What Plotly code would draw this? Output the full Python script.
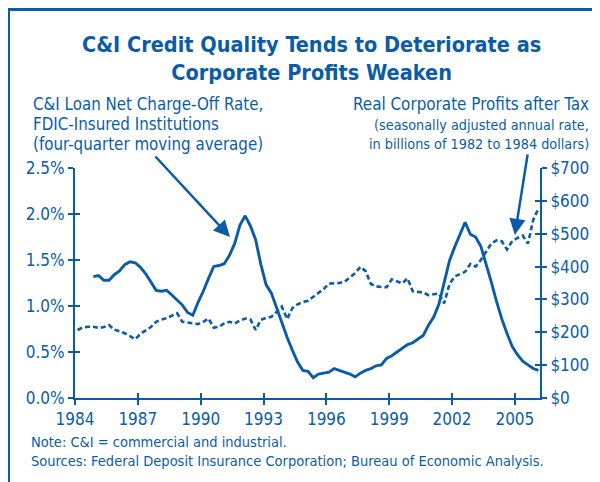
import plotly.graph_objects as go

# ---- data ----
# C&I loan net charge-off rate (%), quarterly, first point at 1984.875
chargeoff_start = 1984.875
chargeoff = [1.32, 1.33, 1.28, 1.28, 1.34, 1.38, 1.45, 1.48, 1.47, 1.42, 1.35, 1.26,
             1.17, 1.16, 1.17, 1.12, 1.06, 1.01, 0.93, 0.90, 1.04, 1.16, 1.30, 1.43,
             1.44, 1.46, 1.55, 1.68, 1.88, 1.98, 1.87, 1.72, 1.45, 1.23, 1.14, 0.98,
             0.81, 0.66, 0.52, 0.39, 0.30, 0.29, 0.22, 0.26, 0.27, 0.28, 0.32, 0.30,
             0.28, 0.26, 0.23, 0.27, 0.30, 0.32, 0.35, 0.36, 0.43, 0.46, 0.50, 0.54,
             0.58, 0.60, 0.64, 0.68, 0.79, 0.88, 1.02, 1.25, 1.49, 1.64, 1.77, 1.91,
             1.78, 1.75, 1.65, 1.46, 1.26, 1.05, 0.86, 0.70, 0.56, 0.47, 0.40, 0.36,
             0.32, 0.30]

# Real corporate profits after tax (billions of 1982-84 $), quarterly, first point at 1984.125
profits_start = 1984.125
profits = [207, 215, 217, 217, 213, 216, 222, 208, 203, 197, 188, 179,
           195, 205, 216, 232, 239, 243, 250, 258, 232, 229, 227, 225,
           232, 242, 214, 217, 227, 232, 227, 236, 242, 239, 207, 238,
           244, 247, 262, 278, 240, 273, 285, 292, 296, 308, 322, 332,
           348, 349, 350, 354, 366, 380, 399, 386, 347, 340, 338, 337,
           361, 356, 349, 364, 325, 323, 321, 313, 315, 318, 288, 346,
           370, 378, 384, 408, 400, 420, 445, 470, 480, 477, 452, 478,
           487, 494, 470, 542, 577]

x_ticks = [1984, 1987, 1990, 1993, 1996, 1999, 2002, 2005]
y_left_ticks = [0.0, 0.5, 1.0, 1.5, 2.0, 2.5]
y_left_labels = ["0.0%", "0.5%", "1.0%", "1.5%", "2.0%", "2.5%"]
y_right_ticks = [0, 100, 200, 300, 400, 500, 600, 700]
y_right_labels = ["$0", "$100", "$200", "$300", "$400", "$500", "$600", "$700"]

left_label_lines = ["C&I Loan Net Charge-Off Rate,", "FDIC-Insured Institutions",
                    "(four-quarter moving average)"]
right_label_title = "Real Corporate Profits after Tax"
right_label_sub = ["(seasonally adjusted annual rate,", "in billions of 1982 to 1984 dollars)"]

chargeoff_x = [chargeoff_start + 0.25 * i for i in range(len(chargeoff))]
profits_x = [profits_start + 0.25 * i for i in range(len(profits))]

BLUE = "#0b5ca8"
FONT = "DejaVu Sans Condensed, Liberation Sans Narrow, sans-serif"
PAGE_OFF = 8          # the page body margin
W, H = 600 - PAGE_OFF, 482 - PAGE_OFF

def px(x):
    return (x - PAGE_OFF) / W

def py(y):
    return 1 - (y - PAGE_OFF) / H

fig = go.Figure()
fig.add_trace(go.Scatter(x=profits_x, y=profits, mode="lines", yaxis="y2",
                         line=dict(color=BLUE, width=2.6, dash="5px,3px"),
                         hoverinfo="skip", showlegend=False))
fig.add_trace(go.Scatter(x=chargeoff_x, y=chargeoff, mode="lines",
                         line=dict(color=BLUE, width=2.9),
                         hoverinfo="skip", showlegend=False))
# invisible traces to make the inner-tick overlay axes exist
fig.add_trace(go.Scatter(x=[x_ticks[0]], y=[0], xaxis="x2", yaxis="y3", mode="markers",
                         marker=dict(opacity=0), hoverinfo="skip", showlegend=False))
fig.add_trace(go.Scatter(x=[x_ticks[0]], y=[0], xaxis="x2", yaxis="y4", mode="markers",
                         marker=dict(opacity=0), hoverinfo="skip", showlegend=False))

XR = [1984, 2006.2]
xdom = [px(75), px(540)]
ydom = [py(398), py(168)]
tickfont = dict(family=FONT, size=17, color=BLUE)

common = dict(ticklen=5, tickwidth=2, tickcolor=BLUE, automargin=False,
              showgrid=False, zeroline=False)

fig.update_layout(
    width=W, height=H,
    margin=dict(l=0, r=0, t=0, b=0, autoexpand=False),
    paper_bgcolor="white", plot_bgcolor="white",
    xaxis=dict(domain=xdom, range=XR, tickvals=x_ticks, ticktext=[str(t) for t in x_ticks],
               ticks="outside", showline=True, linecolor=BLUE, linewidth=2,
               tickfont=tickfont, anchor="y", **common),
    xaxis2=dict(domain=xdom, range=XR, overlaying="x", tickvals=x_ticks, showticklabels=False,
                ticks="inside", showline=False, anchor="y3", side="bottom", **common),
    yaxis=dict(domain=ydom, range=[0, 2.5], tickvals=y_left_ticks, ticktext=y_left_labels,
               ticks="outside", showline=True, linecolor=BLUE, linewidth=2,
               tickfont=tickfont, anchor="x", **common),
    yaxis2=dict(domain=ydom, range=[0, 700], tickvals=y_right_ticks, ticktext=y_right_labels,
                overlaying="y", side="right", ticks="outside",
                showline=True, linecolor=BLUE, linewidth=2,
                tickfont=tickfont, anchor="x", **common),
    yaxis3=dict(domain=ydom, range=[0, 2.5], tickvals=y_left_ticks, showticklabels=False,
                overlaying="y", side="left", ticks="inside", showline=False, anchor="x2", **common),
    yaxis4=dict(domain=ydom, range=[0, 700], tickvals=y_right_ticks, showticklabels=False,
                overlaying="y", side="right", ticks="inside", showline=False, anchor="x2", **common),
)

# frame lines
fig.add_shape(type="line", xref="paper", yref="paper", x0=px(8.5), x1=1.01, y0=py(9.5), y1=py(9.5),
              line=dict(color=BLUE, width=3))
fig.add_shape(type="line", xref="paper", yref="paper", x0=px(8.5), x1=px(8.5), y0=py(8), y1=-0.01,
              line=dict(color=BLUE, width=3))

ann = []
ann.append(dict(xref="paper", yref="paper", x=px(311), y=py(58), xanchor="center", yanchor="middle",
                text="<b>C&I Credit Quality Tends to Deteriorate as<br>Corporate Profits Weaken</b>",
                showarrow=False, font=dict(family=FONT, size=21.5, color=BLUE), align="center"))
for i, line in enumerate(left_label_lines):
    ann.append(dict(xref="paper", yref="paper", x=px(31), y=py(104 + 20 * i),
                    xanchor="left", yanchor="middle", text=line, showarrow=False,
                    font=dict(family=FONT, size=16.8, color=BLUE)))
ann.append(dict(xref="paper", yref="paper", x=px(591), y=py(104), xanchor="right", yanchor="middle",
                text=right_label_title, showarrow=False,
                font=dict(family=FONT, size=16.9, color=BLUE)))
for i, line in enumerate(right_label_sub):
    ann.append(dict(xref="paper", yref="paper", x=px(591), y=py(124.5 + 19 * i),
                    xanchor="right", yanchor="middle", text=line, showarrow=False,
                    font=dict(family=FONT, size=14.3, color=BLUE)))
ann.append(dict(xref="paper", yref="paper", x=px(29), y=py(451), xanchor="left", yanchor="middle",
                text="Note: C&I = commercial and industrial.<br>Sources: Federal Deposit Insurance Corporation; Bureau of Economic Analysis.",
                showarrow=False, font=dict(family=FONT, size=14.5, color=BLUE), align="left"))
# arrows
ann.append(dict(x=1991.4, y=1.75, xref="x", yref="y", ax=-76, ay=-82,
                text="", showarrow=True, arrowhead=2, arrowsize=1.3, arrowwidth=2.5, arrowcolor=BLUE))
ann.append(dict(x=2005.0, y=496, xref="x", yref="y2", ax=13, ay=-82,
                text="", showarrow=True, arrowhead=2, arrowsize=1.3, arrowwidth=2.5, arrowcolor=BLUE))
fig.update_layout(annotations=ann)

fig.write_html("out.html")
